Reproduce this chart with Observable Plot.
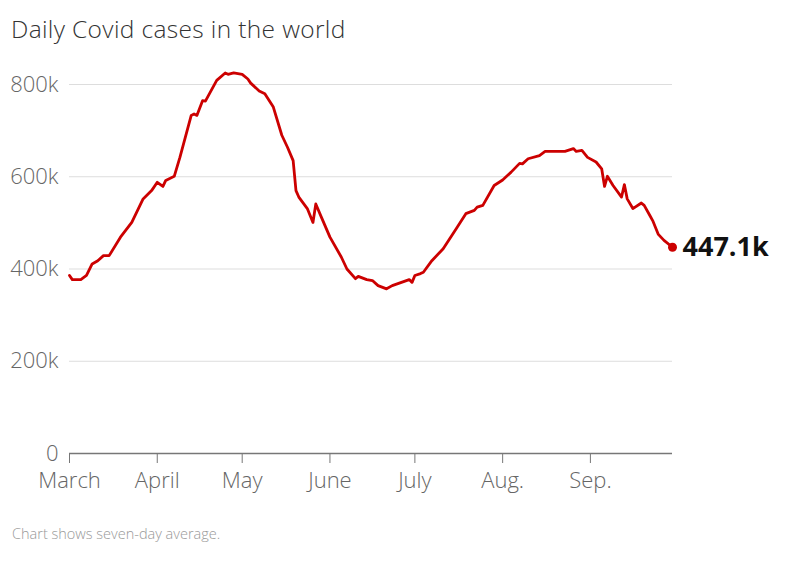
<!DOCTYPE html>
<html>
<head>
<meta charset="utf-8">
<script src="https://cdn.jsdelivr.net/npm/d3@7"></script>
<script src="https://cdn.jsdelivr.net/npm/@observablehq/plot@0.6"></script>
<style>
  body { margin: 0; background: #fff; width: 800px; height: 584px; overflow: hidden; }
  #title { font-family: "Open Sans", Lato, sans-serif; font-weight: 300; font-size: 24.5px; letter-spacing: 0.35px; color: #333; height: 50px; box-sizing: border-box; padding: 15px 0 0 11px; line-height: 28px; }
  #caption { font-family: "Open Sans", Lato, sans-serif; font-weight: 300; font-size: 14.5px; color: #999; padding: 14px 0 0 12px; }
  svg { display: block; }
</style>
</head>
<body>
<div id="title">Daily Covid cases in the world</div>
<div id="chart"></div>
<div id="caption">Chart shows seven-day average.</div>
<script>
const dates = [
  "2021-03-01","2021-03-02","2021-03-05","2021-03-07","2021-03-09","2021-03-11","2021-03-13","2021-03-15",
  "2021-03-19","2021-03-23","2021-03-27","2021-03-30","2021-04-01","2021-04-03","2021-04-04","2021-04-07",
  "2021-04-09","2021-04-13","2021-04-14","2021-04-15","2021-04-17","2021-04-18","2021-04-22","2021-04-25",
  "2021-04-26","2021-04-28","2021-05-01","2021-05-03","2021-05-04","2021-05-07","2021-05-09","2021-05-12",
  "2021-05-15","2021-05-17","2021-05-19","2021-05-20","2021-05-21","2021-05-24","2021-05-26","2021-05-27",
  "2021-05-29","2021-06-01","2021-06-05","2021-06-07","2021-06-10","2021-06-11","2021-06-14","2021-06-16",
  "2021-06-18","2021-06-21","2021-06-23","2021-06-29","2021-06-30","2021-07-01","2021-07-03","2021-07-04",
  "2021-07-07","2021-07-11","2021-07-16","2021-07-19","2021-07-22","2021-07-23","2021-07-25","2021-07-29",
  "2021-08-01","2021-08-04","2021-08-07","2021-08-08","2021-08-10","2021-08-14","2021-08-16","2021-08-19",
  "2021-08-23","2021-08-26","2021-08-27","2021-08-29","2021-08-31","2021-09-03","2021-09-05","2021-09-06",
  "2021-09-07","2021-09-09","2021-09-12","2021-09-13","2021-09-14","2021-09-16","2021-09-19","2021-09-20",
  "2021-09-22","2021-09-23","2021-09-25","2021-09-27","2021-09-30"
];
// seven-day average, thousands of cases
const casesK = [
  386,377,377,386,411,418,429,429,
  469,501,552,570,588,579,592,601,
  642,733,736,733,765,764,809,825,
  822,825,822,812,803,786,780,751,
  690,664,635,570,556,531,501,541,
  512,469,426,400,379,384,377,375,
  364,357,364,377,371,386,390,393,
  418,444,491,520,527,534,538,581,
  593,610,629,628,639,646,655,655,
  655,661,655,657,642,632,617,579,
  601,581,556,583,552,531,543,538,
  516,505,475,462,447.1
];
const yTicks = [0, 200, 400, 600, 800];
const monthTicks = ["2021-03-01","2021-04-01","2021-05-01","2021-06-01","2021-07-01","2021-08-01","2021-09-01"];
const monthLabels = ["March","April","May","June","July","Aug.","Sep."];
const endLabel = "447.1k";

const parse = d3.utcParse("%Y-%m-%d");
const data = dates.map((d, i) => ({date: parse(d), value: casesK[i]}));
const last = data[data.length - 1];
const tickDates = monthTicks.map(parse);

const plot = Plot.plot({
  width: 800,
  height: 460,
  marginLeft: 69,
  marginRight: 128,
  marginTop: 34,
  marginBottom: 57,
  style: {fontFamily: "'Open Sans', Lato, sans-serif", background: "#fff"},
  x: {type: "utc", domain: [parse("2021-03-01"), parse("2021-09-30")]},
  y: {domain: [0, 800]},
  marks: [
    Plot.ruleY(yTicks.filter(d => d > 0), {stroke: "#ddd", strokeWidth: 1, x1: parse("2021-03-01"), x2: parse("2021-09-30")}),
    Plot.axisY(yTicks, {tickSize: 0, tickPadding: 11, fontSize: 22, fontWeight: 300, fill: "#666", tickFormat: d => d === 0 ? "0" : d + "k", label: null}),
    Plot.ruleY([0], {stroke: "#777", strokeWidth: 1.5}),
    Plot.axisX(tickDates, {tickSize: 10, tickPadding: 9, stroke: "#777", fontSize: 22, fontWeight: 300, fill: "#666", tickFormat: (d, i) => monthLabels[i], label: null}),
    Plot.line(data, {x: "date", y: "value", stroke: "#cc0000", strokeWidth: 2.8, curve: "linear"}),
    Plot.dot([last], {x: "date", y: "value", r: 4.5, fill: "#cc0000"}),
    Plot.text([last], {x: "date", y: "value", text: () => endLabel, textAnchor: "start", dx: 10, fontSize: 27, fontWeight: "bold", fill: "#111"})
  ]
});
document.getElementById("chart").appendChild(plot);
</script>
</body>
</html>
